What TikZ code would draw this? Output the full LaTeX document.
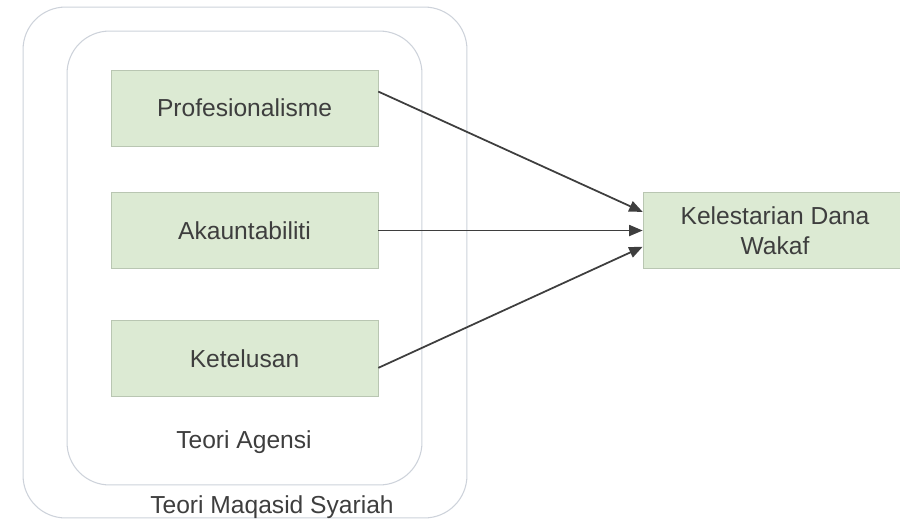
\documentclass[tikz,border=0pt]{standalone}
\usepackage{fontspec}
\setmainfont{Liberation Sans}
\usepackage{xcolor}
\usepackage{tikz}
\usetikzlibrary{arrows.meta,positioning}

\definecolor{boxfill}{HTML}{DCEAD3}
\definecolor{boxline}{HTML}{B9C6B2}
\definecolor{frameline}{HTML}{CDD2DA}
\definecolor{ink}{HTML}{3E3E3E}

\begin{document}
\begin{tikzpicture}[
  x=0.02cm, y=-0.02cm,
  var/.style={rectangle, draw=boxline, fill=boxfill, text=ink,
    minimum width=5.34cm, minimum height=1.52cm, align=center,
    font=\fontsize{14}{17}\selectfont},
  frame/.style={rectangle, draw=frameline, line width=0.6pt, rounded corners=0.85cm},
  caption/.style={text=ink, font=\fontsize{14}{17}\selectfont},
  arrow/.style={-{Triangle[length=0.27cm, width=0.22cm]}, draw=ink, line width=1pt}
]
  \useasboundingbox (0,0) rectangle (900,528);

  % theory frames
  \node[frame, minimum width=8.88cm, minimum height=10.22cm] (maqasid) at (245,262.5) {};
  \node[frame, minimum width=7.1cm, minimum height=9.08cm] (agensi) at (244.5,258) {};
  \node[caption] (agensilbl) at (244,442) {Teori Agensi};
  \node[caption] (maqasidlbl) at (272,507) {Teori Maqasid Syariah};

  % variables
  \node[var] (prof) at (244.5,108) {Profesionalisme};
  \node[var] (akaun) at (244.5,230.5) {Akauntabiliti};
  \node[var] (ketel) at (244.5,358.5) {Ketelusan};
  \node[var, minimum width=5.28cm] (kelestarian) at (775,230.5) {Kelestarian Dana\\Wakaf};

  \draw[arrow] (prof.7) -- (kelestarian.172);
  \draw[arrow] (akaun) -- (kelestarian);
  \draw[arrow] (ketel.-4) -- (kelestarian.187);
\end{tikzpicture}
\end{document}
